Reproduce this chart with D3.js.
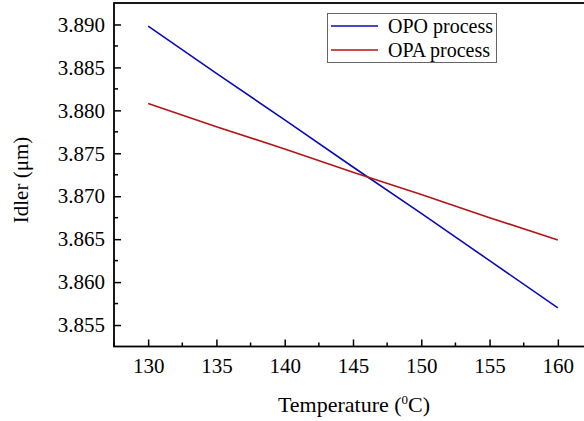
<!DOCTYPE html>
<html>
<head>
<meta charset="utf-8">
<script src="https://cdn.jsdelivr.net/npm/d3@7"></script>
<style>
  body { margin: 0; background: #fff; }
  svg { display: block; }
  text { font-family: "Liberation Serif", "Times New Roman", serif !important; fill: #000; }
</style>
</head>
<body>
<svg id="chart" width="584" height="421"></svg>
<script>
// temperatures (deg C)
var temps = [130, 135, 140, 145, 150, 155, 160];
// idler wavelength (um)
var opoIdler = [3.8898, 3.8843, 3.8789, 3.8734, 3.8680, 3.8625, 3.8570];
var opaIdler = [3.8808, 3.8781, 3.8755, 3.8728, 3.8702, 3.8675, 3.8649];
var seriesNames = ["OPO process", "OPA process"];
var seriesColors = ["#0a0ab4", "#b41414"];
var xTicks = [130, 135, 140, 145, 150, 155, 160];
var yTicks = [3.855, 3.860, 3.865, 3.870, 3.875, 3.880, 3.885, 3.890];

var svg = d3.select("#chart"),
	plotLeft = 114, plotTop = 3, plotRight = 592, plotBottom = 346.5;

var x = d3.scaleLinear().domain([127.5, 162.5]).range([plotLeft, plotRight]),
	y = d3.scaleLinear().domain([3.8525, 3.8925]).range([plotBottom, plotTop]);

// frame
svg.append("rect")
	.attr("x", plotLeft).attr("y", plotTop)
	.attr("width", plotRight - plotLeft).attr("height", plotBottom - plotTop)
	.attr("fill", "none").attr("stroke", "#000").attr("stroke-width", 1.8);

// minor ticks
var xMinor = [127.5, 132.5, 137.5, 142.5, 147.5, 152.5, 157.5, 162.5],
	yMinor = [3.8575, 3.8625, 3.8675, 3.8725, 3.8775, 3.8825, 3.8875];

// axes (inward ticks)
var xAxis = svg.append("g").attr("transform", "translate(0," + plotBottom + ")")
	.call(d3.axisBottom(x).tickValues(xTicks).tickSize(-7).tickPadding(12).tickFormat(d3.format("d")));
var yAxis = svg.append("g").attr("transform", "translate(" + plotLeft + ",0)")
	.call(d3.axisLeft(y).tickValues(yTicks).tickSize(-7).tickPadding(9).tickFormat(d3.format(".3f")));

[xAxis, yAxis].forEach(function(a) {
	a.attr("font-family", null).attr("font-size", null);
	a.select(".domain").remove();
	a.selectAll("line").attr("stroke", "#000").attr("stroke-width", 1.5);
	a.selectAll("text").style("font-size", "21px");
});

svg.append("g").selectAll("line").data(xMinor).enter().append("line")
	.attr("x1", function(d) { return x(d); }).attr("x2", function(d) { return x(d); })
	.attr("y1", plotBottom).attr("y2", plotBottom - 4)
	.attr("stroke", "#000").attr("stroke-width", 1.5);
svg.append("g").selectAll("line").data(yMinor).enter().append("line")
	.attr("x1", plotLeft).attr("x2", plotLeft + 4)
	.attr("y1", function(d) { return y(d); }).attr("y2", function(d) { return y(d); })
	.attr("stroke", "#000").attr("stroke-width", 1.5);

// series
var line = d3.line()
	.x(function(d) { return x(d[0]); })
	.y(function(d) { return y(d[1]); });

[opoIdler, opaIdler].forEach(function(vals, i) {
	svg.append("path")
		.datum(temps.map(function(t, j) { return [t, vals[j]]; }))
		.attr("d", line)
		.attr("fill", "none")
		.attr("stroke", seriesColors[i])
		.attr("stroke-width", 1.6);
});

// legend
var legend = svg.append("g");
legend.append("rect")
	.attr("x", 327.5).attr("y", 13.5).attr("width", 169).attr("height", 49)
	.attr("fill", "#fff").attr("stroke", "#666").attr("stroke-width", 1);
seriesNames.forEach(function(name, i) {
	var yy = 26 + i * 24;
	legend.append("line")
		.attr("x1", 331).attr("x2", 378).attr("y1", yy).attr("y2", yy)
		.attr("stroke", seriesColors[i]).attr("stroke-width", 1.6);
	legend.append("text")
		.attr("x", 388).attr("y", yy + 7)
		.style("font-size", "20px")
		.text(name);
});

// axis titles
var xt = svg.append("text")
	.attr("x", 354).attr("y", 412)
	.attr("text-anchor", "middle")
	.style("font-size", "22px");
xt.append("tspan").text("Temperature (");
xt.append("tspan").style("font-size", "13px").attr("dy", -8).text("0");
xt.append("tspan").attr("dy", 8).text("C)");

svg.append("text")
	.attr("transform", "translate(28,180) rotate(-90)")
	.attr("text-anchor", "middle")
	.style("font-size", "21px")
	.text("Idler (μm)");
</script>
</body>
</html>
